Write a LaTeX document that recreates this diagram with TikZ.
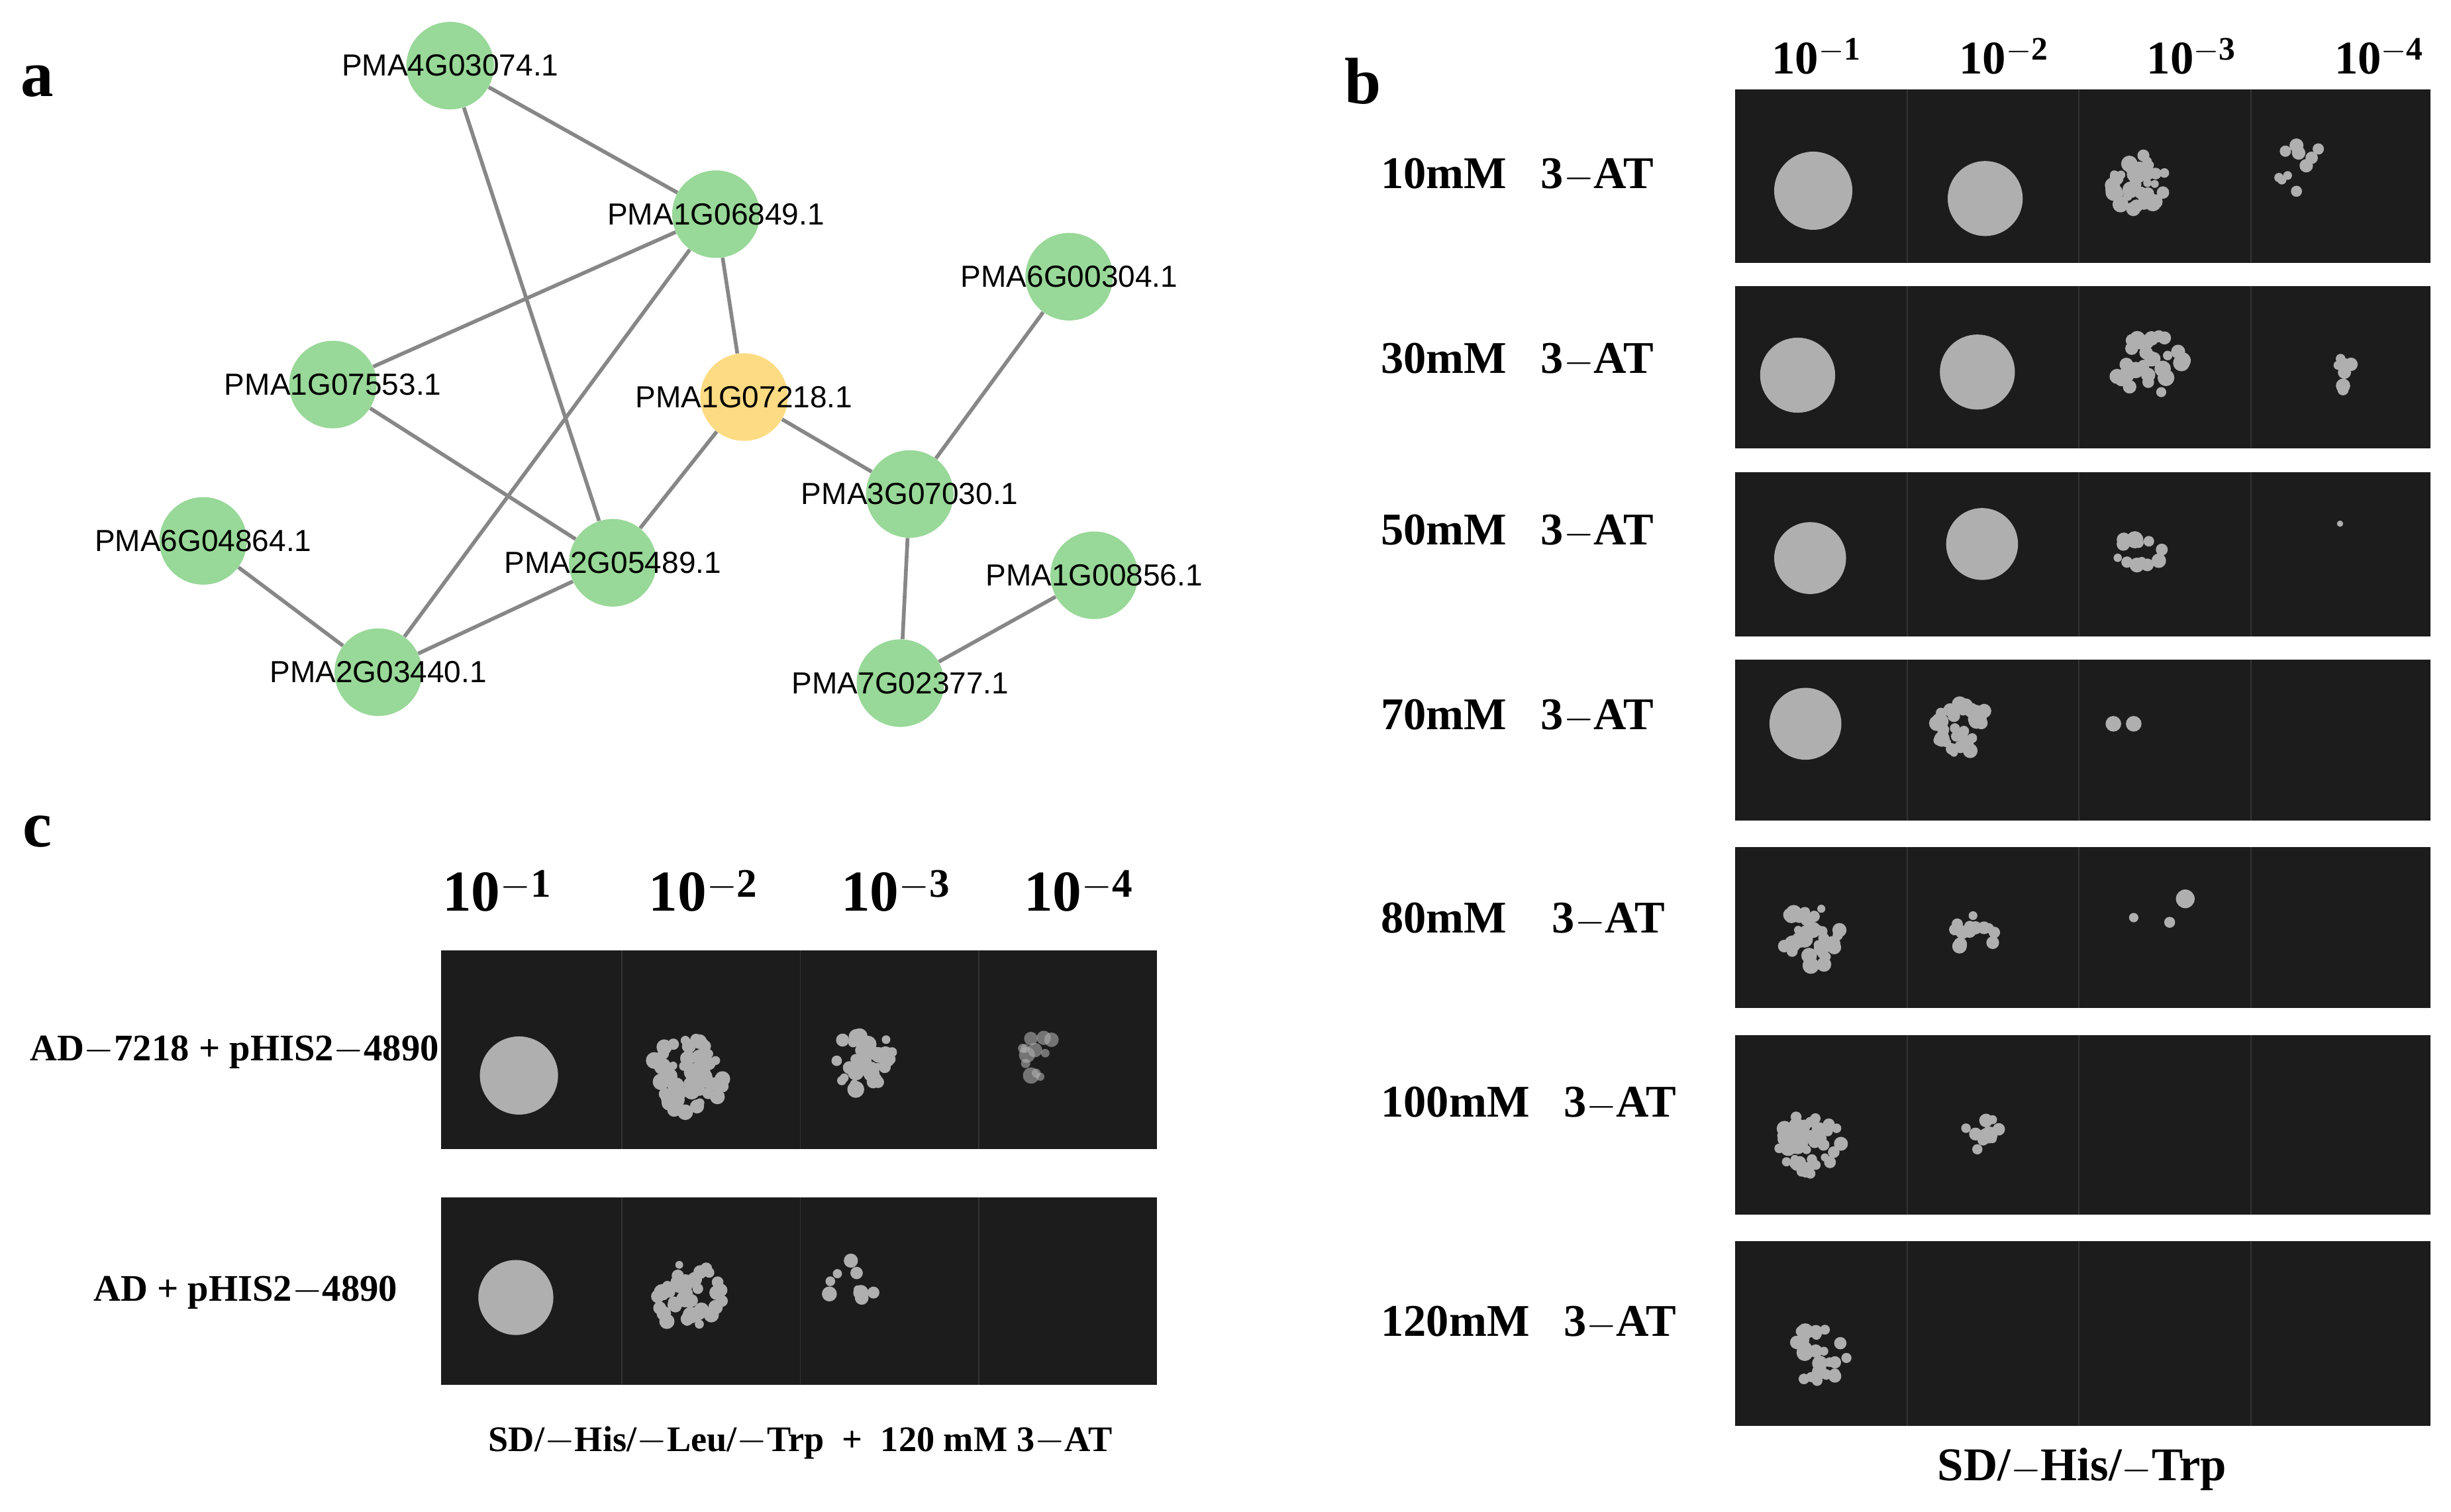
\documentclass[tikz,border=0pt]{standalone}
\usepackage{fontspec}
\setmainfont{Liberation Serif}
\newfontfamily\sansf{Liberation Sans}
\definecolor{pgreen}{RGB}{152,216,152}
\definecolor{pyellow}{RGB}{253,219,130}
\definecolor{egray}{RGB}{135,135,135}
\definecolor{gelc}{RGB}{28,28,28}
\definecolor{spotc}{RGB}{175,175,175}
\begin{document}
\begin{tikzpicture}[x=1pt,y=-1pt,
  prot/.style={circle,minimum size=56pt,inner sep=0pt,fill=pgreen},
  hub/.style={prot,fill=pyellow},
  lab/.style={font=\sansf\fontsize{19.5}{21}\selectfont,inner sep=0pt},
  edge/.style={draw=egray,line width=2.4pt},
  gel/.style={fill=gelc},
  spot/.style={fill=spotc},
  hdr/.style={font=\bfseries\fontsize{30}{32}\selectfont},
  rowl/.style={font=\bfseries\fontsize{29}{31}\selectfont,anchor=west},
  pan/.style={font=\bfseries\fontsize{42}{44}\selectfont}]
\useasboundingbox (0,0) rectangle (1568,967);
\fill[white] (0,0) rectangle (1568,967);
\newcommand{\clus}[5]{\pgfmathsetseed{#5}\foreach \i in {1,...,#4}{\pgfmathsetmacro\aa{rnd*360}\pgfmathsetmacro\dd{sqrt(rnd)*#3}\pgfmathsetmacro\rr{2.5+rnd*3}\fill[spot] ({#1+\dd*cos(\aa)},{#2+\dd*sin(\aa)}) circle (\rr);}}
% panel labels
\node[pan] (pa) at (24,52) {a};
\node[pan] (pb) at (872,52) {b};
\node[pan] (pc) at (24,532) {c};
% network
\node[prot] (n1) at (288,42) {};
\node[prot] (n2) at (458,137) {};
\node[prot] (n3) at (684,177) {};
\node[prot] (n4) at (213,246) {};
\node[hub] (n5) at (476,254) {};
\node[prot] (n6) at (582,316) {};
\node[prot] (n7) at (130,346) {};
\node[prot] (n8) at (392,360) {};
\node[prot] (n9) at (700,368) {};
\node[prot] (n10) at (242,430) {};
\node[prot] (n11) at (576,437) {};
\foreach \a/\b in {n1/n2,n1/n8,n2/n4,n2/n5,n2/n10,n4/n8,n5/n8,n5/n6,n3/n6,n6/n11,n11/n9,n7/n10,n10/n8}
  \draw[edge] (\a) -- (\b);
\node[lab] (l1) at (n1) {PMA4G03074.1};
\node[lab] (l2) at (n2) {PMA1G06849.1};
\node[lab] (l3) at (n3) {PMA6G00304.1};
\node[lab] (l4) at (n4) {PMA1G07553.1};
\node[lab] (l5) at (n5) {PMA1G07218.1};
\node[lab] (l6) at (n6) {PMA3G07030.1};
\node[lab] (l7) at (n7) {PMA6G04864.1};
\node[lab] (l8) at (n8) {PMA2G05489.1};
\node[lab] (l9) at (n9) {PMA1G00856.1};
\node[lab] (l10) at (n10) {PMA2G03440.1};
\node[lab] (l11) at (n11) {PMA7G02377.1};
% panel b
\foreach \x/\k in {1162/1,1282/2,1402/3,1522/4} \node[hdr] (bh\k) at (\x,36) {10$^{\mathbf{-\k}}$};
\foreach \ya/\yb in {57/168,183/287,302/407,422/525,542/645,662/777,794/912}{
  \fill[gel] (1110,\ya) rectangle (1555,\yb);
  \foreach \x in {1220,1330,1440} \draw[gray!40!black,line width=0.8pt] (\x,\ya) -- (\x,\yb);}
\foreach \y/\t in {112/10mM\ \ \ 3$-$AT,230/30mM\ \ \ 3$-$AT,340/50mM\ \ \ 3$-$AT,458/70mM\ \ \ 3$-$AT,588/80mM\ \ \ \ 3$-$AT,706/100mM\ \ \ 3$-$AT,846/120mM\ \ \ 3$-$AT}
  \node[rowl] at (880,\y) {\t};
\node[font=\bfseries\fontsize{30}{32}\selectfont] (bb) at (1332,940) {SD/$-$His/$-$Trp};
% spots b
\fill[spot] (1160,122) circle (25); \fill[spot] (1270,127) circle (24);
\clus{1368}{117}{18}{45}{1} \clus{1470}{107}{18}{10}{2}
\fill[spot] (1150,240) circle (24); \fill[spot] (1265,238) circle (24);
\clus{1375}{235}{22}{30}{3} \clus{1495}{240}{12}{7}{4}
\fill[spot] (1158,357) circle (23); \fill[spot] (1268,348) circle (23);
\clus{1370}{355}{16}{14}{5} \fill[spot] (1497,335) circle (2);
\fill[spot] (1155,463) circle (23); \clus{1255}{465}{18}{35}{6}
\fill[spot] (1352,463) circle (5); \fill[spot] (1365,463) circle (5);
\clus{1158}{600}{20}{35}{7} \clus{1262}{600}{16}{14}{8}
\fill[spot] (1398,575) circle (6); \fill[spot] (1388,590) circle (3.5); \fill[spot] (1365,587) circle (3);
\clus{1160}{732}{22}{40}{9} \clus{1268}{725}{12}{10}{10}
\clus{1163}{868}{20}{28}{11}
% panel c
\foreach \x/\k in {318/1,450/2,573/3,690/4} \node[font=\bfseries\fontsize{37}{40}\selectfont] (ch\k) at (\x,570) {10$^{\mathbf{-\k}}$};
\foreach \ya/\yb in {608/735,766/886}{
  \fill[gel] (282,\ya) rectangle (740,\yb);
  \foreach \x in {398,512,626} \draw[gray!40!black,line width=0.8pt] (\x,\ya) -- (\x,\yb);}
\node[font=\bfseries\fontsize{24}{26}\selectfont] (cr1) at (150,673) {AD$-$7218 + pHIS2$-$4890};
\node[font=\bfseries\fontsize{24}{26}\selectfont] (cr2) at (157,827) {AD + pHIS2$-$4890};
\node[font=\bfseries\fontsize{23}{25}\selectfont] (cb) at (512,923) {SD/$-$His/$-$Leu/$-$Trp\ \ +\ \ 120 mM 3$-$AT};
\fill[spot] (332,688) circle (25); \clus{440}{688}{24}{60}{12} \clus{552}{678}{20}{35}{13}
\begin{scope}[opacity=0.6]\clus{668}{676}{15}{12}{14}\end{scope}
\fill[spot] (330,830) circle (24); \clus{440}{830}{22}{40}{15} \clus{545}{820}{18}{9}{16}
\end{tikzpicture}
\end{document}
